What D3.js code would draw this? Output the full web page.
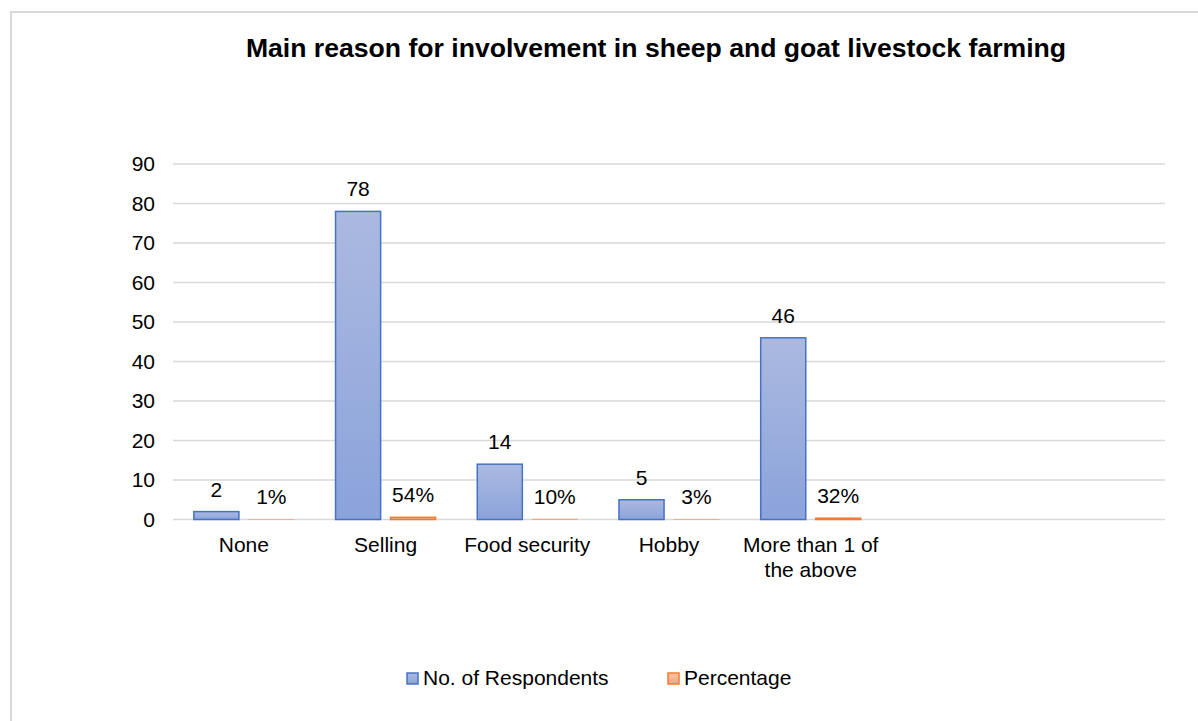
<!DOCTYPE html>
<html>
<head>
<meta charset="utf-8">
<script src="https://cdn.jsdelivr.net/npm/d3@7/dist/d3.min.js"></script>
<style>
  html, body { margin: 0; padding: 0; background: #fff; }
  svg { display: block; font-family: "Liberation Sans", Arial, sans-serif; }
</style>
</head>
<body>
<svg id="chart" width="1198" height="721"></svg>
<script>
// Survey responses: main reason for keeping sheep and goats
const categories = ["None", "Selling", "Food security", "Hobby", "More than 1 of the above", "", ""];
const respondents = [2, 78, 14, 5, 46, null, null];
const percentages = [0.01, 0.54, 0.10, 0.03, 0.32, null, null];
const seriesNames = ["No. of Respondents", "Percentage"];
const yTicks = [0, 10, 20, 30, 40, 50, 60, 70, 80, 90];
const titleText = "Main reason for involvement in sheep and goat livestock farming";

const svg = d3.select("#chart");
const W = 1198, H = 721;
const plot = { left: 173, right: 1165, top: 164, bottom: 519.5 };
const labelSize = "21px";

// outer chart-area frame
svg.append("rect")
  .attr("x", 11).attr("y", 12)
  .attr("width", W + 20).attr("height", H + 20)
  .attr("fill", "#fff")
  .attr("stroke", "#d9d9d9").attr("stroke-width", 2);

const defs = svg.append("defs");
const gBlue = defs.append("linearGradient").attr("id", "gradBlue")
  .attr("x1", 0).attr("y1", 0).attr("x2", 0).attr("y2", 1);
gBlue.append("stop").attr("offset", "0%").attr("stop-color", "#abb9e0");
gBlue.append("stop").attr("offset", "100%").attr("stop-color", "#8ba3db");
const gOrange = defs.append("linearGradient").attr("id", "gradOrange")
  .attr("x1", 0).attr("y1", 0).attr("x2", 0).attr("y2", 1);
gOrange.append("stop").attr("offset", "0%").attr("stop-color", "#f6c3a3");
gOrange.append("stop").attr("offset", "100%").attr("stop-color", "#f2a779");

const x0 = d3.scaleBand().domain(d3.range(categories.length))
  .range([plot.left, plot.right]).paddingInner(0).paddingOuter(0);
const bw = x0.bandwidth();
const x1 = d3.scaleBand().domain(seriesNames)
  .range([bw * 0.147, bw * 0.853]).paddingInner(0.18).paddingOuter(0);
const y = d3.scaleLinear().domain([0, 90]).range([plot.bottom, plot.top]);

// horizontal gridlines
svg.append("g").selectAll("line").data(yTicks).join("line")
  .attr("x1", plot.left).attr("x2", plot.right)
  .attr("y1", d => y(d)).attr("y2", d => y(d))
  .attr("stroke", "#d9d9d9").attr("stroke-width", 1.5);

// y axis labels
const yAxis = d3.axisLeft(y).tickValues(yTicks).tickSize(0).tickPadding(0);
const yG = svg.append("g").attr("transform", `translate(${plot.left - 18},0)`).call(yAxis);
yG.select(".domain").remove();
yG.selectAll("text").attr("font-size", labelSize).attr("fill", "#000")
  .attr("font-family", "Liberation Sans, Arial, sans-serif");

const fills = ["url(#gradBlue)", "url(#gradOrange)"];
const strokes = ["#4472c4", "#ed7d31"];
const seriesData = [respondents, percentages];
const fmt = [d => d3.format("d")(d), d => d3.format(".0%")(d)];

seriesData.forEach((vals, s) => {
  const pts = vals.map((v, i) => ({ v, i })).filter(d => d.v !== null);
  const g = svg.append("g");
  g.selectAll("rect").data(pts).join("rect")
    .attr("x", d => x0(d.i) + x1(seriesNames[s]))
    .attr("y", d => y(d.v))
    .attr("width", x1.bandwidth())
    .attr("height", d => y(0) - y(d.v))
    .attr("fill", fills[s])
    .attr("stroke", strokes[s])
    .attr("stroke-width", s === 0 ? 1.5 : (d => d.v > 0.2 ? 1.5 : 1))
    .attr("stroke-opacity", s === 0 ? 1 : (d => d.v > 0.2 ? 1 : 0.35));
  g.selectAll("text").data(pts).join("text")
    .attr("x", d => x0(d.i) + x1(seriesNames[s]) + x1.bandwidth() / 2)
    .attr("y", d => y(d.v) - 15)
    .attr("text-anchor", "middle")
    .attr("font-size", labelSize)
    .attr("fill", "#000")
    .text(d => fmt[s](d.v));
});

// category labels (wrap long ones)
const catG = svg.append("g");
const wrapLines = { "More than 1 of the above": ["More than 1 of", "the above"] };
categories.forEach((c, i) => {
  if (!c) return;
  const lines = wrapLines[c] || [c];
  const t = catG.append("text")
    .attr("x", x0(i) + bw / 2)
    .attr("y", 552)
    .attr("text-anchor", "middle")
    .attr("font-size", labelSize)
    .attr("fill", "#000");
  lines.forEach((ln, k) => {
    t.append("tspan").attr("x", x0(i) + bw / 2).attr("dy", k === 0 ? 0 : 25).text(ln);
  });
});

// title
svg.append("text")
  .attr("x", 656).attr("y", 57)
  .attr("text-anchor", "middle")
  .attr("font-size", "26.6px")
  .attr("font-weight", "bold")
  .attr("fill", "#000")
  .text(titleText);

// legend
const legendItems = [
  { name: seriesNames[0], x: 407, fill: "url(#gradBlue)", stroke: "#4472c4" },
  { name: seriesNames[1], x: 668, fill: "url(#gradOrange)", stroke: "#ed7d31" }
];
const lg = svg.append("g");
legendItems.forEach(it => {
  lg.append("rect").attr("x", it.x).attr("y", 673).attr("width", 11).attr("height", 11)
    .attr("fill", it.fill).attr("stroke", it.stroke).attr("stroke-width", 1.5);
  lg.append("text").attr("x", it.x + 16).attr("y", 685)
    .attr("font-size", labelSize).attr("fill", "#000").text(it.name);
});
</script>
</body>
</html>
